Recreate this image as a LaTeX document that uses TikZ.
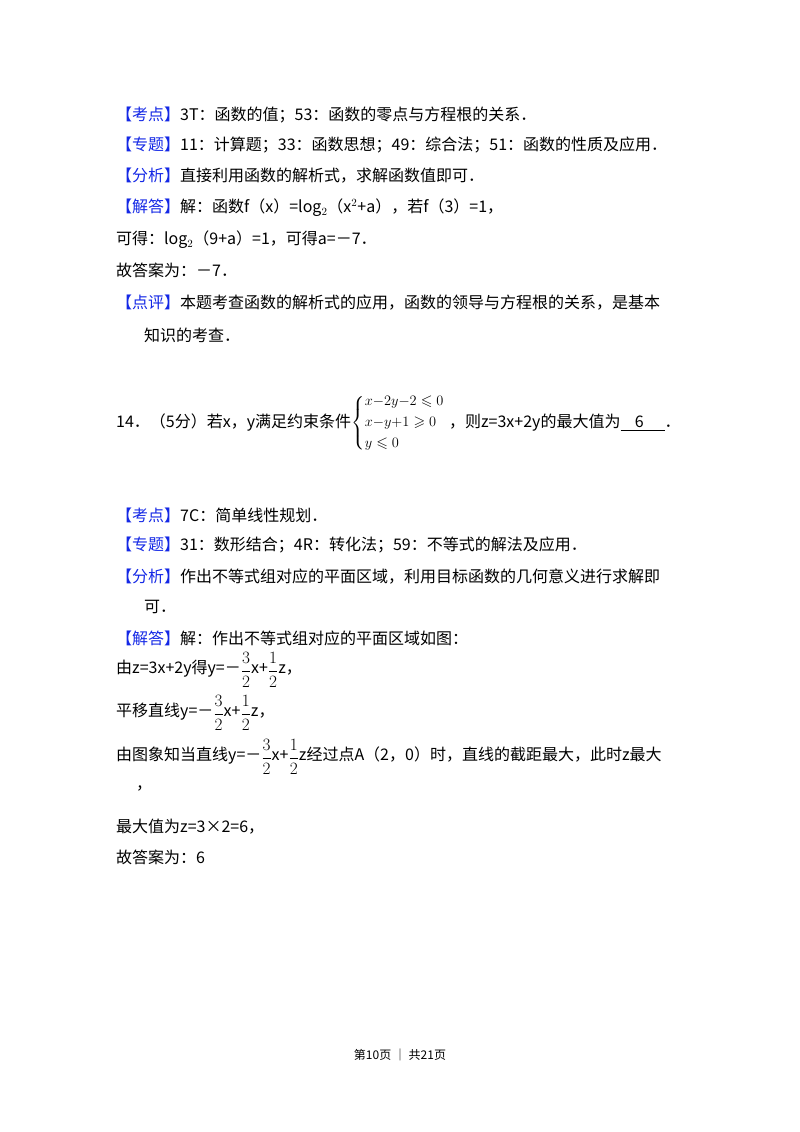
\documentclass[tikz,border=0pt]{standalone}
\usepackage{amsmath,amssymb}
\usepackage{fontspec}
\setmainfont{Noto Sans CJK SC}
\definecolor{kblue}{RGB}{20,40,230}
\begin{document}
\begin{tikzpicture}[x=1pt,y=-1pt,
  t/.style={anchor=west,inner sep=0pt,font=\fontsize{16}{18}\selectfont},
  k/.style={text=kblue}]
\useasboundingbox[fill=white] (0,0) rectangle (800,1132);
\newcommand{\kk}[1]{\textcolor{kblue}{【#1】}}
\newcommand{\fr}[2]{\raisebox{-1.5pt}{\fontsize{16}{16}\selectfont$\genfrac{}{}{0.5pt}{0}{#1}{#2}$}}
\node[t] (l1) at (116,115) {\kk{考点}3T：函数的值；53：函数的零点与方程根的关系．};
\node[t] (l2) at (116,145) {\kk{专题}11：计算题；33：函数思想；49：综合法；51：函数的性质及应用．};
\node[t] (l3) at (116,176) {\kk{分析}直接利用函数的解析式，求解函数值即可．};
\node[t] (l4) at (116,208) {\kk{解答}解：函数f（x）=log$_2$（x$^2$+a），若f（3）=1，};
\node[t] (l5) at (116,240) {可得：log$_2$（9+a）=1，可得a=－7．};
\node[t] (l6) at (116,270) {故答案为：－7．};
\node[t] (l7) at (116,303) {\kk{点评}本题考查函数的解析式的应用，函数的领导与方程根的关系，是基本};
\node[t] (l8) at (144,335) {知识的考查．};
\node[t] (q1) at (116,423) {14．（5分）若x，y满足约束条件};
\node[t,font=\fontsize{15}{15}\selectfont] (sys) at (q1.east) {$\left\{\begin{array}{@{}l@{}}x{-}2y{-}2\leqslant0\\[6pt] x{-}y{+}1\geqslant0\\[6pt] y\leqslant0\end{array}\right.$};
\node[t] (q2) at ([xshift=4pt]sys.east) {，则z=3x+2y的最大值为\underline{\hspace{0.9em}6\hspace{1.3em}}．};
\node[t] (m1) at (116,515) {\kk{考点}7C：简单线性规划．};
\node[t] (m2) at (116,545) {\kk{专题}31：数形结合；4R：转化法；59：不等式的解法及应用．};
\node[t] (m3) at (116,577) {\kk{分析}作出不等式组对应的平面区域，利用目标函数的几何意义进行求解即};
\node[t] (m4) at (144,607) {可．};
\node[t] (m5) at (116,638) {\kk{解答}解：作出不等式组对应的平面区域如图：};
\node[t] (m6) at (116,670) {由z=3x+2y得y=－\fr{3}{2}x+\fr{1}{2}z，};
\node[t] (m7) at (116,713) {平移直线y=－\fr{3}{2}x+\fr{1}{2}z，};
\node[t] (m8) at (116,757) {由图象知当直线y=－\fr{3}{2}x+\fr{1}{2}z经过点A（2，0）时，直线的截距最大，此时z最大};
\node[t] (m9) at (136,788) {，};
\node[t] (m10) at (116,827) {最大值为z=3×2=6，};
\node[t] (m11) at (116,857) {故答案为：6};
\node[inner sep=0pt,font=\fontsize{12}{12}\selectfont] (ft) at (400,1055) {第10页 ｜ 共21页};
\end{tikzpicture}
\end{document}
